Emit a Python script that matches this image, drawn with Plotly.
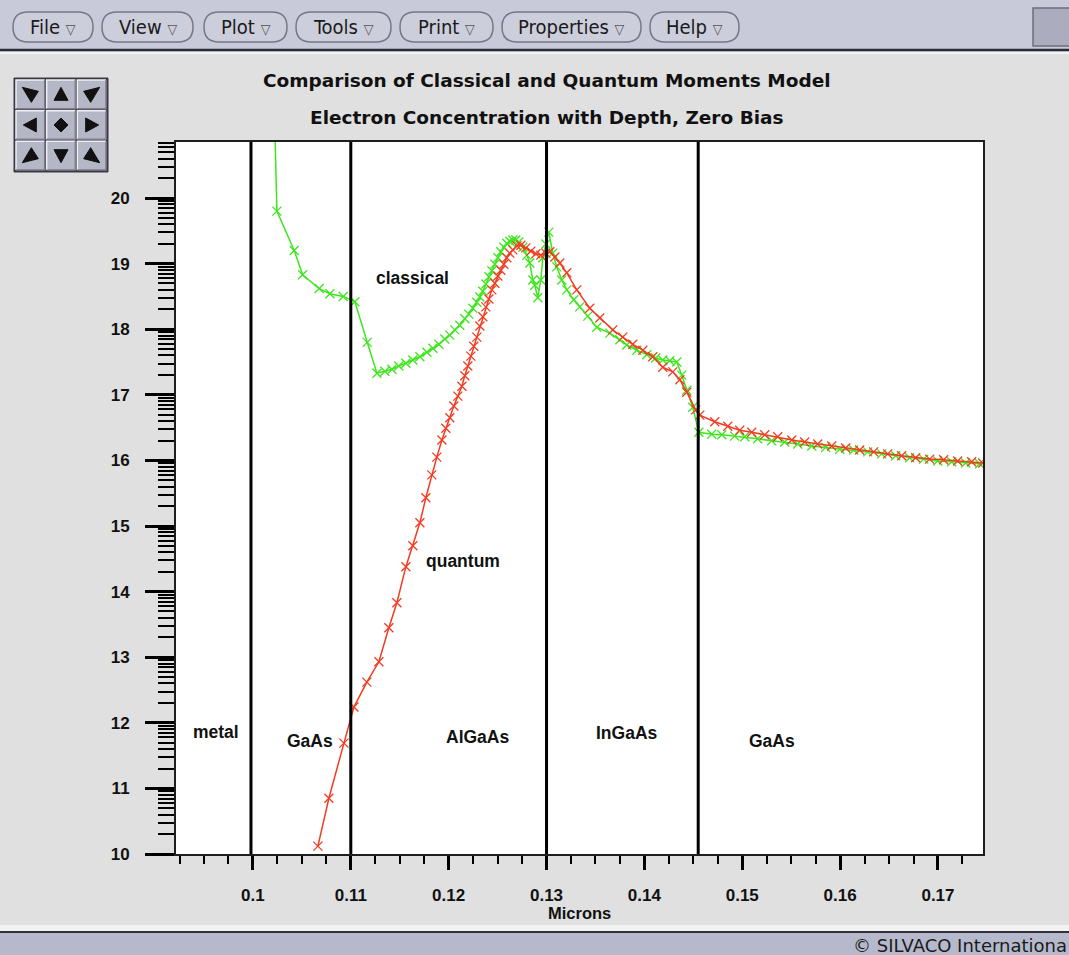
import plotly.graph_objects as go
import math

# ---------------- data ----------------
classical_x = [0.1020, 0.10245, 0.10422, 0.10508, 0.10677, 0.10787, 0.10923, 0.11042, 0.11168,
               0.11267, 0.11348, 0.11420, 0.11491, 0.11563, 0.11634, 0.11706, 0.11777, 0.11839,
               0.11900, 0.11961, 0.12012, 0.12063, 0.12114, 0.12165, 0.12206, 0.12247, 0.12288,
               0.12319, 0.12349, 0.12380, 0.12411, 0.12441, 0.12472, 0.12503, 0.12533, 0.12564,
               0.12594, 0.12625, 0.12656, 0.12686, 0.12717, 0.12758, 0.12799, 0.12829, 0.12860,
               0.12880, 0.12911, 0.12942, 0.12962, 0.12993, 0.13024, 0.13064, 0.13105, 0.13156,
               0.13207, 0.13279, 0.13340, 0.13422, 0.13514, 0.13647, 0.13749, 0.13820, 0.13922,
               0.14025, 0.14116, 0.14188, 0.14259, 0.14331, 0.14382, 0.14433, 0.14494, 0.14556,
               0.14688, 0.14791, 0.14923, 0.15026, 0.15158, 0.15301, 0.15434, 0.15567, 0.15710,
               0.15853, 0.15996, 0.16139, 0.16282, 0.16425, 0.16568, 0.16711, 0.16854, 0.16997,
               0.17140, 0.17283, 0.17426]
classical_y = [22.5, 19.80, 19.20, 18.83, 18.62, 18.54, 18.50, 18.42, 17.80,
               17.33, 17.36, 17.39, 17.44, 17.48, 17.53, 17.58, 17.65, 17.71,
               17.77, 17.85, 17.91, 17.99, 18.06, 18.16, 18.23, 18.32, 18.41,
               18.49, 18.58, 18.69, 18.80, 18.89, 18.99, 19.09, 19.18, 19.25,
               19.31, 19.34, 19.36, 19.36, 19.33, 19.25, 19.13, 19.01, 18.75,
               18.67, 18.48, 18.75, 19.09, 19.30, 19.48, 19.16, 18.95, 18.75,
               18.60, 18.45, 18.34, 18.20, 18.03, 17.94, 17.84, 17.76, 17.68,
               17.61, 17.56, 17.53, 17.52, 17.50, 17.30, 17.07, 16.81, 16.43,
               16.40, 16.39, 16.37, 16.36, 16.33, 16.30, 16.28, 16.25, 16.22,
               16.20, 16.17, 16.16, 16.13, 16.10, 16.07, 16.04, 16.02, 15.99,
               15.98, 15.96, 15.95]

quantum_x = [0.10664, 0.10776, 0.10930, 0.11032, 0.11164, 0.11287, 0.11389, 0.11471, 0.11563,
             0.11634, 0.11706, 0.11767, 0.11828, 0.11879, 0.11931, 0.11971, 0.12012, 0.12053,
             0.12094, 0.12135, 0.12165, 0.12196, 0.12227, 0.12257, 0.12288, 0.12319, 0.12349,
             0.12380, 0.12411, 0.12441, 0.12472, 0.12503, 0.12533, 0.12564, 0.12594, 0.12625,
             0.12656, 0.12697, 0.12738, 0.12789, 0.12840, 0.12891, 0.12942, 0.12993, 0.13034,
             0.13085, 0.13136, 0.13207, 0.13309, 0.13442, 0.13544, 0.13677, 0.13779, 0.13881,
             0.13984, 0.14086, 0.14188, 0.14290, 0.14362, 0.14433, 0.14525, 0.14566, 0.14719,
             0.14852, 0.14974, 0.15097, 0.15230, 0.15363, 0.15506, 0.15638, 0.15771, 0.15914,
             0.16057, 0.16200, 0.16343, 0.16486, 0.16629, 0.16772, 0.16915, 0.17058, 0.17201,
             0.17344, 0.17457]
quantum_y = [10.12, 10.85, 11.69, 12.24, 12.62, 12.93, 13.45, 13.83, 14.38,
             14.70, 15.05, 15.43, 15.78, 16.05, 16.31, 16.49, 16.65, 16.83,
             16.98, 17.13, 17.29, 17.44, 17.59, 17.74, 17.88, 18.05, 18.19,
             18.34, 18.46, 18.60, 18.70, 18.81, 18.90, 18.99, 19.09, 19.16,
             19.21, 19.27, 19.28, 19.24, 19.19, 19.15, 19.13, 19.16, 19.18,
             19.10, 19.01, 18.86, 18.60, 18.32, 18.17, 17.99, 17.88, 17.77,
             17.68, 17.58, 17.42, 17.35, 17.23, 17.04, 16.77, 16.69, 16.59,
             16.52, 16.46, 16.43, 16.39, 16.36, 16.31, 16.28, 16.25, 16.22,
             16.19, 16.16, 16.13, 16.10, 16.07, 16.04, 16.02, 16.01, 15.99,
             15.98, 15.96]

region_bounds = [0.0998, 0.1100, 0.1300, 0.1455]
region_labels = ["metal", "GaAs", "AlGaAs", "InGaAs", "GaAs"]
region_label_x = [0.0962, 0.1058, 0.1229, 0.1382, 0.1530]
region_label_y = [11.86, 11.72, 11.78, 11.84, 11.73]

curve_labels = ["classical", "quantum"]
curve_label_x = [0.1163, 0.1215]
curve_label_y = [18.78, 14.47]

x_tick_vals = [0.10, 0.11, 0.12, 0.13, 0.14, 0.15, 0.16, 0.17]
x_tick_text = ["0.1", "0.11", "0.12", "0.13", "0.14", "0.15", "0.16", "0.17"]
y_tick_vals = [10, 11, 12, 13, 14, 15, 16, 17, 18, 19, 20]
y_minor_factors = [2, 3, 4, 5, 6, 7, 8, 9]

title_lines = ["Comparison of Classical and Quantum Moments Model",
               "Electron Concentration with Depth, Zero Bias"]
x_title = "Microns"
menu_items = ["File", "View", "Plot", "Tools", "Print", "Properties", "Help"]
menu_spans = [(13, 93), (102, 193), (204, 287), (296, 391), (400, 493), (502, 641), (650, 739)]
footer_text = "\u00a9 SILVACO Internationa"

# ---------------- layout geometry ----------------
W, H = 1069, 955
PL, PR, PT, PB = 176, 983, 142, 854
X_RANGE = [0.09214, 0.17460]
Y_RANGE = [10.0, 20.854]


def fx(px):
    return (px - PL) / (PR - PL)


def fy(py):
    return (PB - py) / (PB - PT)


GREEN = "#3ee61e"
RED = "#f23c22"
BG = "#e0e0e0"
BAR = "#c9cad9"
FOOT = "#b6b9cc"
TXT_FONT = "Liberation Sans, Arial, sans-serif"
TITLE_FONT = "DejaVu Sans, sans-serif"
MENU_FONT = "DejaVu Sans Condensed, Liberation Sans Narrow, DejaVu Sans, sans-serif"

fig = go.Figure()
fig.add_trace(go.Scatter(x=classical_x, y=classical_y, mode="lines+markers", name="classical",
                         line=dict(color=GREEN, width=1.5),
                         marker=dict(symbol="x-thin", size=9, line=dict(width=1.3, color=GREEN)),
                         showlegend=False))
fig.add_trace(go.Scatter(x=quantum_x, y=quantum_y, mode="lines+markers", name="quantum",
                         line=dict(color=RED, width=1.5),
                         marker=dict(symbol="x-thin", size=9, line=dict(width=1.3, color=RED)),
                         showlegend=False))

shapes = []
# top menu strip
shapes.append(dict(type="rect", xref="paper", yref="paper", x0=fx(0), x1=fx(W), y0=fy(0), y1=fy(49),
                   fillcolor=BAR, line=dict(width=0), layer="below"))
shapes.append(dict(type="line", xref="paper", yref="paper", x0=fx(0), x1=fx(W), y0=fy(50), y1=fy(50),
                   line=dict(color="#2c2c38", width=2.5), layer="below"))
shapes.append(dict(type="line", xref="paper", yref="paper", x0=fx(0), x1=fx(W), y0=fy(53), y1=fy(53),
                   line=dict(color="#f4f4f4", width=2), layer="below"))
# top-right box
shapes.append(dict(type="rect", xref="paper", yref="paper", x0=fx(1033), x1=fx(1072), y0=fy(8), y1=fy(46),
                   fillcolor="#abadbf", line=dict(color="#6e6e7a", width=1.5), layer="below"))
# footer
shapes.append(dict(type="rect", xref="paper", yref="paper", x0=fx(0), x1=fx(W), y0=fy(925), y1=fy(931),
                   fillcolor="#f2f2f2", line=dict(width=0), layer="below"))
shapes.append(dict(type="rect", xref="paper", yref="paper", x0=fx(0), x1=fx(W), y0=fy(933), y1=fy(H + 2),
                   fillcolor=FOOT, line=dict(width=0), layer="below"))
shapes.append(dict(type="line", xref="paper", yref="paper", x0=fx(0), x1=fx(W), y0=fy(932), y1=fy(932),
                   line=dict(color="#30303a", width=2), layer="below"))


def pill(x0, y0, x1, y1):
    r = (y1 - y0) / 2.0
    ym = (y0 + y1) / 2.0
    p = lambda a, b: f"{fx(a):.5f},{fy(b):.5f}"
    return (f"M{p(x0 + r, y0)} L{p(x1 - r, y0)} Q{p(x1, y0)} {p(x1, ym)} Q{p(x1, y1)} {p(x1 - r, y1)} "
            f"L{p(x0 + r, y1)} Q{p(x0, y1)} {p(x0, ym)} Q{p(x0, y0)} {p(x0 + r, y0)} Z")


annotations = []
for name, (a, b) in zip(menu_items, menu_spans):
    shapes.append(dict(type="path", xref="paper", yref="paper", path=pill(a, 12, b, 42),
                       fillcolor="#cdcedc", line=dict(color="#767686", width=1.5), layer="below"))
    annotations.append(dict(xref="paper", yref="paper", x=fx((a + b) / 2.0), y=fy(27),
                            text=f"{name} <span style='font-size:14px;color:#555'>\u25bd</span>", showarrow=False,
                            xanchor="center", yanchor="middle",
                            font=dict(family=MENU_FONT, size=20, color="#1a1a1a")))

# navigation pad
NX0, NY0, CS = 15, 79, 30.67
shapes.append(dict(type="rect", xref="paper", yref="paper", x0=fx(NX0 - 1), x1=fx(NX0 + 3 * CS + 1),
                   y0=fy(NY0 - 1), y1=fy(NY0 + 3 * CS + 1), fillcolor="#3a3a44",
                   line=dict(color="#3a3a44", width=1), layer="below"))
icons = {
    (0, 0): [(-8, -7), (8, -3), (1, 8)],
    (0, 1): [(-7, 6), (7, 6), (0, -7)],
    (0, 2): [(8, -7), (-8, -3), (-1, 8)],
    (1, 0): [(6, -7), (6, 7), (-7, 0)],
    (1, 1): [(0, -7), (7, 0), (0, 7), (-7, 0)],
    (1, 2): [(-6, -7), (-6, 7), (7, 0)],
    (2, 0): [(-8, 7), (8, 3), (1, -8)],
    (2, 1): [(-7, -6), (7, -6), (0, 7)],
    (2, 2): [(8, 7), (-8, 3), (-1, -8)],
}
for r in range(3):
    for c in range(3):
        x0 = NX0 + c * CS + 1
        y0 = NY0 + r * CS + 1
        x1 = x0 + CS - 2
        y1 = y0 + CS - 2
        shapes.append(dict(type="rect", xref="paper", yref="paper", x0=fx(x0), x1=fx(x1), y0=fy(y0), y1=fy(y1),
                           fillcolor="#b5b7c6", line=dict(width=0), layer="below"))
        shapes.append(dict(type="path", xref="paper", yref="paper",
                           path=f"M{fx(x0):.5f},{fy(y1):.5f} L{fx(x0):.5f},{fy(y0):.5f} L{fx(x1):.5f},{fy(y0):.5f}",
                           line=dict(color="#eeeef4", width=1.5), layer="below"))
        shapes.append(dict(type="path", xref="paper", yref="paper",
                           path=f"M{fx(x0):.5f},{fy(y1):.5f} L{fx(x1):.5f},{fy(y1):.5f} L{fx(x1):.5f},{fy(y0):.5f}",
                           line=dict(color="#7c7c8c", width=1.5), layer="below"))
        cx = (x0 + x1) / 2.0
        cy = (y0 + y1) / 2.0
        pts = icons[(r, c)]
        path = "M" + " L".join(f"{fx(cx + dx):.5f},{fy(cy + dy):.5f}" for dx, dy in pts) + " Z"
        shapes.append(dict(type="path", xref="paper", yref="paper", path=path,
                           fillcolor="#111111", line=dict(color="#111111", width=1), layer="below"))

# region boundary lines
for xb in region_bounds:
    shapes.append(dict(type="line", xref="x", yref="y domain", x0=xb, x1=xb, y0=0, y1=1,
                       line=dict(color="#000000", width=3), layer="above"))

# titles
for i, t in enumerate(title_lines):
    annotations.append(dict(xref="paper", yref="paper", x=fx(547), y=fy(80 + 38 * i), text=t,
                            showarrow=False, xanchor="center", yanchor="middle",
                            font=dict(family=TITLE_FONT, size=18.5, color="#111111", weight="bold")))
annotations.append(dict(xref="paper", yref="paper", x=fx(579), y=fy(913), text=x_title, showarrow=False,
                        xanchor="center", yanchor="middle",
                        font=dict(family=TXT_FONT, size=16.5, color="#111111", weight="bold")))
for t, xv, yv in zip(region_labels + curve_labels, region_label_x + curve_label_x, region_label_y + curve_label_y):
    annotations.append(dict(xref="x", yref="y", x=xv, y=yv, text=t, showarrow=False,
                            xanchor="center", yanchor="middle",
                            font=dict(family=TXT_FONT, size=17.5, color="#111111", weight="bold")))
annotations.append(dict(xref="paper", yref="paper", x=fx(851), y=fy(945), text=footer_text, showarrow=False,
                        xanchor="left", yanchor="middle",
                        font=dict(family="DejaVu Sans, sans-serif", size=18, color="#1a1a1a")))

y_minor_vals = [d + math.log10(k) for d in range(10, 21) for k in y_minor_factors]

fig.update_layout(
    width=W, height=H, autosize=False,
    margin=dict(l=PL, r=W - PR, t=PT, b=H - PB, pad=0),
    paper_bgcolor=BG, plot_bgcolor="#ffffff",
    shapes=shapes, annotations=annotations,
    xaxis=dict(range=X_RANGE, showgrid=False, zeroline=False, showline=True, mirror=True,
               linecolor="#1e1e1e", linewidth=2, ticks="outside", ticklen=14, tickwidth=3,
               tickcolor="#000000", tickmode="array", tickvals=x_tick_vals, ticktext=x_tick_text,
               ticklabelstandoff=11,
               tickfont=dict(family=TXT_FONT, size=17, color="#111111", weight="bold"),
               minor=dict(ticks="outside", ticklen=8, tickwidth=2, tickcolor="#000000",
                          dtick=0.0025, tick0=0.1, showgrid=False)),
    yaxis=dict(range=Y_RANGE, showgrid=False, zeroline=False, showline=True, mirror=True,
               linecolor="#1e1e1e", linewidth=2, ticks="outside", ticklen=29, tickwidth=3,
               tickcolor="#000000", tickmode="array", tickvals=y_tick_vals,
               ticklabelstandoff=12,
               tickfont=dict(family=TXT_FONT, size=17, color="#111111", weight="bold"),
               minor=dict(ticks="outside", ticklen=16, tickwidth=2, tickcolor="#000000",
                          tickmode="array", tickvals=y_minor_vals, showgrid=False)),
)

fig.write_html("out.html", config={"displayModeBar": False},
               post_script="document.body.style.margin='0';")
